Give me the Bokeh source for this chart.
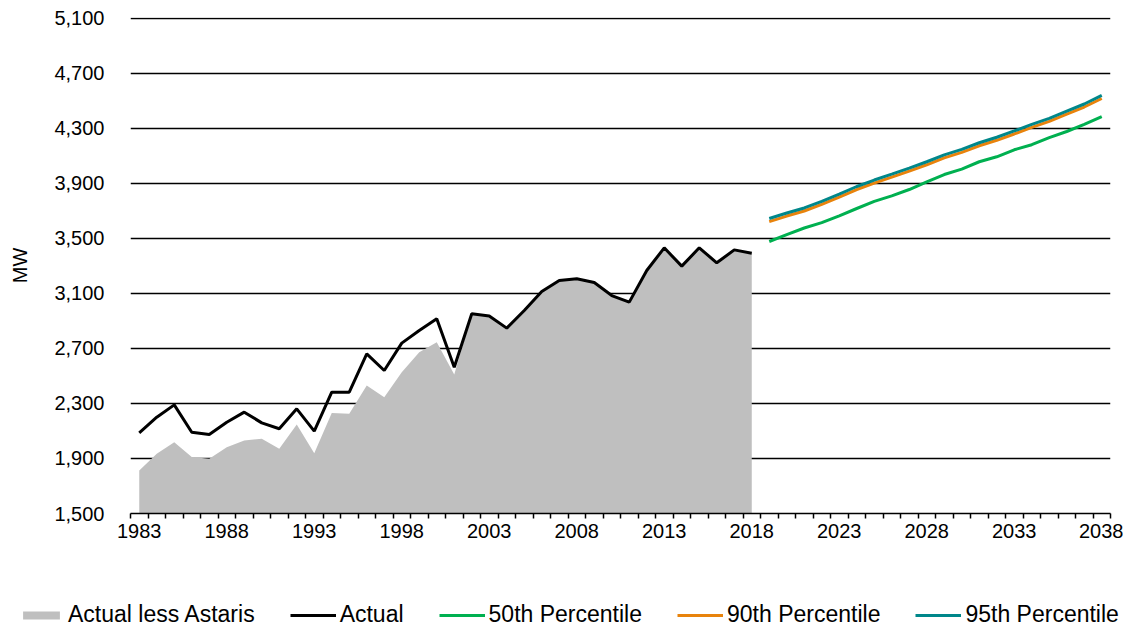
from bokeh.plotting import figure
from bokeh.models import FixedTicker, NumeralTickFormatter, Legend, LegendItem, Range1d
from bokeh.embed import file_html
from bokeh.resources import INLINE

# ---- data ----
years_hist = list(range(1983, 2019))
actual = [2087, 2200, 2290, 2091, 2075, 2164, 2237, 2159, 2116, 2261,
          2099, 2382, 2382, 2661, 2540, 2739, 2831, 2916, 2564, 2952,
          2937, 2848, 2976, 3115, 3195, 3207, 3180, 3085, 3037, 3267,
          3432, 3299, 3432, 3323, 3417, 3393]
actual_less_astaris = [1813, 1934, 2019, 1910, 1898, 1982, 2031, 2043, 1970, 2147,
                       1939, 2230, 2225, 2431, 2346, 2528, 2673, 2746, 2510, 2952,
                       2937, 2848, 2976, 3115, 3195, 3207, 3180, 3085, 3037, 3267,
                       3432, 3299, 3432, 3323, 3417, 3393]
years_fc = list(range(2019, 2039))
p50 = [3478, 3528, 3576, 3615, 3665, 3718, 3770, 3810, 3856, 3912,
       3965, 4004, 4058, 4094, 4145, 4182, 4234, 4278, 4330, 4387]
p90 = [3623, 3663, 3700, 3748, 3800, 3856, 3903, 3946, 3990, 4036,
       4086, 4126, 4174, 4214, 4260, 4308, 4352, 4404, 4456, 4518]
p95 = [3645, 3685, 3722, 3770, 3822, 3878, 3925, 3968, 4012, 4058,
       4108, 4148, 4196, 4236, 4282, 4330, 4374, 4426, 4478, 4540]
x_tick_labels = [1983, 1988, 1993, 1998, 2003, 2008, 2013, 2018, 2023, 2028, 2033, 2038]
y_ticks = [1500, 1900, 2300, 2700, 3100, 3500, 3900, 4300, 4700, 5100]
series_names = ["Actual less Astaris", "Actual", "50th Percentile", "90th Percentile", "95th Percentile"]

FONT = "Liberation Sans"
C_AREA, C_ACT, C_50, C_90, C_95 = "#BFBFBF", "black", "#00B050", "#E8830C", "#00878A"


def draw_series(fig):
    rs = [fig.varea(x=years_hist, y1=0, y2=actual_less_astaris, fill_color=C_AREA),
          fig.line(years_hist, actual, line_color=C_ACT, line_width=3),
          fig.line(years_fc, p50, line_color=C_50, line_width=3),
          fig.line(years_fc, p90, line_color=C_90, line_width=3),
          fig.line(years_fc, p95, line_color=C_95, line_width=3)]
    return rs


p = figure(width=1123, height=560, output_backend="svg", toolbar_location=None,
           x_range=Range1d(1982.5, 2038.5), y_range=Range1d(1500, 5107))
p.min_border_left = 130
p.min_border_right = 13
p.min_border_top = 17
p.min_border_bottom = 47
p.outline_line_color = None
p.background_fill_color = "white"
p.border_fill_color = "white"

draw_series(p)

# x axis
minor = [y - 0.5 for y in range(1983, 2040)]
p.xaxis.ticker = FixedTicker(ticks=x_tick_labels, minor_ticks=minor)
p.xaxis.major_tick_line_color = None
p.xaxis.major_tick_out = 5
p.xaxis.major_tick_in = 0
p.xaxis.minor_tick_line_color = "black"
p.xaxis.minor_tick_line_width = 1.5
p.xaxis.minor_tick_out = 5
p.xaxis.minor_tick_in = 0
p.xaxis.axis_line_color = "black"
p.xaxis.axis_line_width = 1.5
p.xaxis.major_label_standoff = 5
p.xaxis.major_label_text_font = FONT
p.xaxis.major_label_text_font_size = "20px"
p.xaxis.major_label_text_color = "black"

# y axis
p.yaxis.ticker = FixedTicker(ticks=y_ticks)
p.yaxis.formatter = NumeralTickFormatter(format="0,0")
p.yaxis.axis_line_color = None
p.yaxis.major_tick_line_color = None
p.yaxis.minor_tick_line_color = None
p.yaxis.major_tick_out = 0
p.yaxis.major_tick_in = 0
p.yaxis.major_label_standoff = 26
p.yaxis.major_label_text_font = FONT
p.yaxis.major_label_text_font_size = "20px"
p.yaxis.major_label_text_color = "black"
p.yaxis.axis_label = "MW"
p.yaxis.axis_label_text_font = FONT
p.yaxis.axis_label_text_font_size = "20px"
p.yaxis.axis_label_text_font_style = "normal"
p.yaxis.axis_label_text_color = "black"
p.yaxis.axis_label_standoff = 20

p.xgrid.grid_line_color = None
p.ygrid.ticker = FixedTicker(ticks=y_ticks)
p.ygrid.grid_line_color = "black"
p.ygrid.grid_line_width = 1.5

# ---- legend strip: separate root so the legend can span the full width ----
# (its series sit outside its visible y range; only the legend shows)
q = figure(width=1123, height=68, output_backend="svg", toolbar_location=None,
           x_range=Range1d(1982.5, 2038.5), y_range=Range1d(-2, -1),
           x_axis_type=None, y_axis_type=None)
q.min_border_left = 0
q.min_border_right = 0
q.min_border_top = 0
q.min_border_bottom = 0
q.outline_line_color = None
q.xgrid.grid_line_color = None
q.ygrid.grid_line_color = None
q_rs = draw_series(q)

legend = Legend(items=[LegendItem(label=n, renderers=[r]) for n, r in zip(series_names, q_rs)],
                orientation="horizontal", location=(18, 0))
legend.label_text_font = FONT
legend.label_text_font_size = "23px"
legend.label_text_color = "black"
legend.glyph_width = 46
legend.glyph_height = 10
legend.label_height = 22
legend.label_standoff = 4
legend.spacing = 35
legend.padding = 0
legend.margin = 0
legend.border_line_color = None
legend.background_fill_alpha = 0
q.add_layout(legend, "center")

open("out.html", "w").write(file_html([p, q], INLINE))
